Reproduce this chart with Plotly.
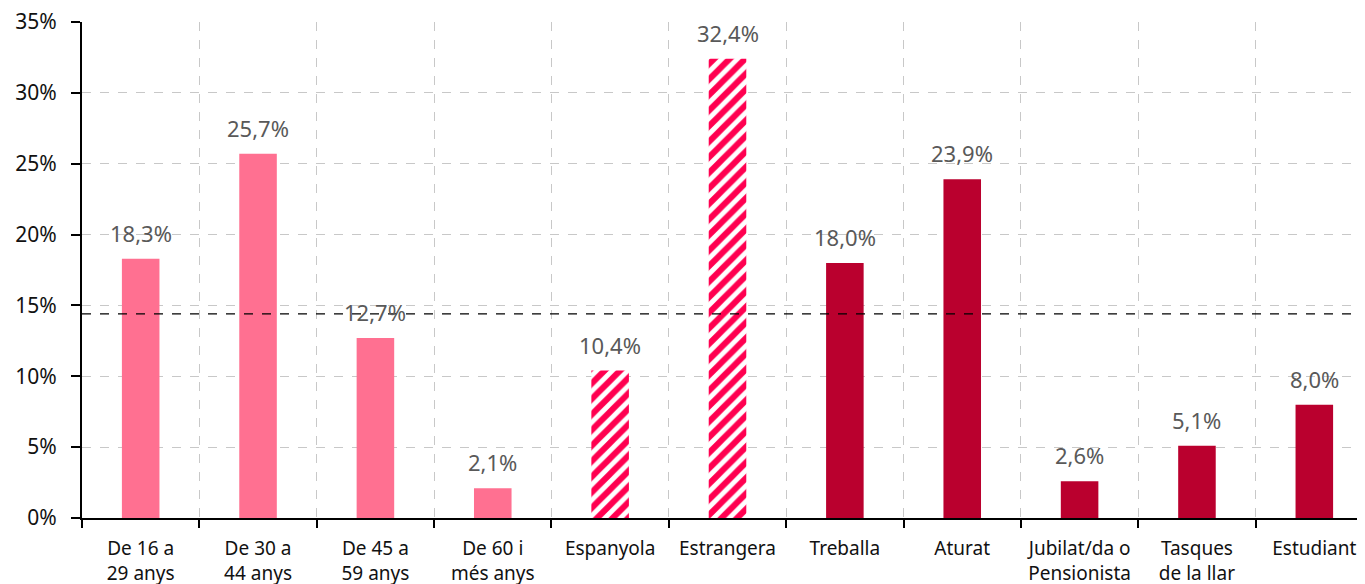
import plotly.graph_objects as go

categories = ["De 16 a<br>29 anys", "De 30 a<br>44 anys", "De 45 a<br>59 anys", "De 60 i<br>més anys",
              "Espanyola", "Estrangera", "Treballa", "Aturat", "Jubilat/da o<br>Pensionista",
              "Tasques<br>de la llar", "Estudiant"]
values = [18.3, 25.7, 12.7, 2.1, 10.4, 32.4, 18.0, 23.9, 2.6, 5.1, 8.0]
groups = ["age"] * 4 + ["nat"] * 2 + ["occ"] * 5
average = 14.4
yticks = [0, 5, 10, 15, 20, 25, 30, 35]

PINK = "#FF7091"
HATCH = "#FF0050"
DARK = "#BA002E"
FONT = "Noto Sans"

x = list(range(len(categories)))
fig = go.Figure()

def add_group(name, color, pattern=None):
    xs = [i for i in x if groups[i] == name]
    ys = [values[i] for i in xs]
    marker = dict(color=color if pattern is None else "white", line=dict(width=0))
    if pattern:
        marker["pattern"] = dict(shape="/", fgcolor=color, bgcolor="white", size=11,
                                 solidity=0.55, fgopacity=1, fillmode="replace")
    fig.add_trace(go.Bar(x=xs, y=ys, width=0.32, marker=marker, showlegend=False, hoverinfo="skip"))

add_group("age", PINK)
add_group("nat", HATCH, pattern=True)
add_group("occ", DARK)

fig.add_trace(go.Scatter(x=[-0.5, len(categories) - 0.5], y=[average, average], mode="lines",
                         line=dict(color="#000000", width=1.2, dash="dash"), showlegend=False, hoverinfo="skip"))

for i, v in enumerate(values):
    fig.add_annotation(x=i, y=v, text=f"{v:.1f}%".replace(".", ","), showarrow=False,
                       yanchor="bottom", yshift=9, font=dict(family=FONT, size=22, color="#595959"))

fig.update_layout(
    width=1373, height=584,
    margin=dict(l=74, r=8, t=14, b=74),
    plot_bgcolor="white", paper_bgcolor="white",
    font=dict(family=FONT, color="#111111"),
)
fig.update_xaxes(
    range=[-0.5, len(categories) - 0.5], automargin=False,
    tickvals=x, ticktext=categories, ticks="", showgrid=False,
    tickfont=dict(size=19, color="#111111"), ticklabelstandoff=12, ticklabeloverflow="allow",
    showline=True, linecolor="black", linewidth=2,
    minor=dict(tickvals=[i - 0.5 for i in range(len(categories) + 1)], ticks="outside", ticklen=8,
               tickwidth=2, tickcolor="black", showgrid=True, gridcolor="#C8C8C8", griddash="dash", gridwidth=1),
    zeroline=False,
)
fig.update_yaxes(
    range=[0, 35], automargin=False, tickvals=yticks, ticktext=[f"{t}%" for t in yticks],
    tickfont=dict(size=21, color="#111111"), ticklabelstandoff=10, ticklabeloverflow="allow",
    ticks="outside", ticklen=9, tickwidth=2, tickcolor="black",
    showline=True, linecolor="black", linewidth=2,
    showgrid=True, gridcolor="#C8C8C8", griddash="dash", gridwidth=1, zeroline=False,
)

fig.write_html("out.html")
